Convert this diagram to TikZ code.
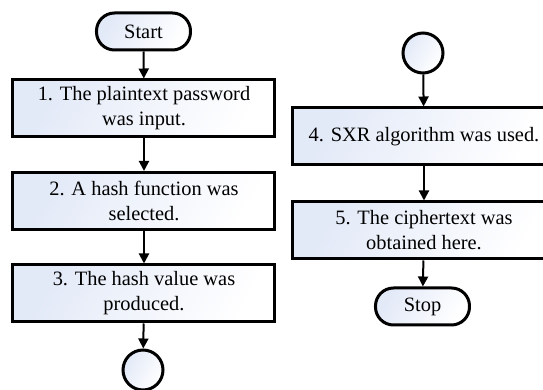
\documentclass[tikz,border=0pt]{standalone}
\usepackage{fontspec}
\setmainfont{Liberation Serif}
\usetikzlibrary{arrows.meta}
\definecolor{flowfill}{RGB}{226,233,247}

\begin{document}
\begin{tikzpicture}[auto, x=0.5pt, y=-0.5pt,
    process/.style ={rectangle, draw, line width=1.5pt, minimum width=131pt, minimum height=28.5pt, align=center, left color=flowfill, right color=white, shading angle=60, font=\fontsize{10.2}{12.5}\selectfont},
    terminal/.style ={rectangle, draw, line width=1.5pt, rounded corners=9pt, minimum width=47pt, minimum height=18.5pt, left color=flowfill, right color=white, shading angle=60, font=\fontsize{10.2}{12.5}\selectfont},
    connector/.style ={circle, draw, line width=1.5pt, inner sep=0pt, minimum size=20pt, left color=flowfill, right color=white, shading angle=60},
    flow/.style ={line width=1pt, -{Triangle[length=5pt, width=5pt]}}]
   \useasboundingbox (0,0) rectangle (543,390);
   \node[terminal] (S) at (143.5,31.5) {Start};
   \node[process] (A) at (144,108.5) {1. The plaintext password\\was input.};
   \node[process] (B) at (144,201) {2. A hash function was\\selected.};
   \node[process] (C) at (144,293.5) {3. The hash value was\\produced.};
   \node[connector] (o1) at (143,370) {};
   \node[connector] (o2) at (423,53) {};
   \node[process] (D) at (424,136.5) {4. SXR algorithm was used.};
   \node[process] (E) at (424,230.5) {5. The ciphertext was\\obtained here.};
   \node[terminal] (T) at (422.5,306.5) {Stop};


   \draw[flow] (S) to  (A);
   \draw[flow] (A) to  (B);
   \draw[flow] (B) to  (C);
   \draw[flow] (C) to  (o1);
   \draw[flow] (o2) to  (D);
   \draw[flow] (D) to  (E);
   \draw[flow] (E) to  (T);
 \end{tikzpicture}
\end{document}
